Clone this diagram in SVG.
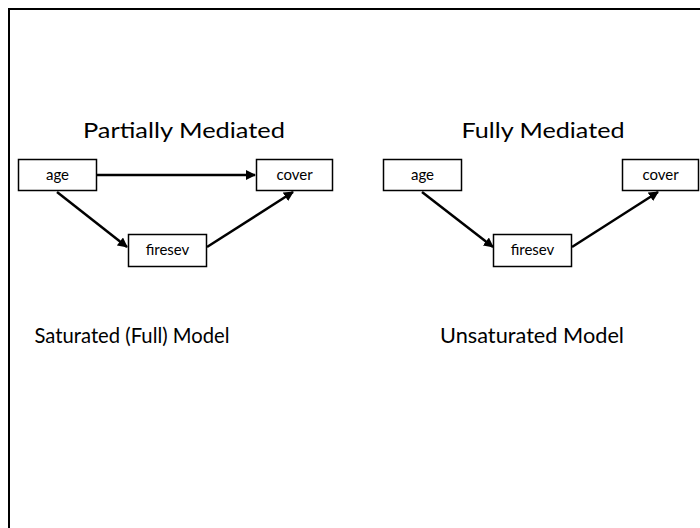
<svg xmlns="http://www.w3.org/2000/svg" width="700" height="528" viewBox="0 0 700 528">
<style>
.t{font-family:Lato,"Open Sans","Liberation Sans",sans-serif;fill:#000}
.title{font-size:22px;text-anchor:middle}
.lbl{font-size:15px;text-anchor:middle}
.box{fill:#fff;stroke:#000;stroke-width:1.5}
.edge{stroke:#000;stroke-width:2.5;fill:none;marker-end:url(#ah)}
</style>
<defs>
<marker id="ah" viewBox="0 0 10 10" refX="9" refY="5" markerWidth="4" markerHeight="4" orient="auto" markerUnits="strokeWidth">
<path d="M0,0 L10,5 L0,10 z" fill="#000"/>
</marker>
</defs>
<rect x="0" y="0" width="700" height="528" fill="#fff"/>
<rect x="9" y="9" width="720" height="560" fill="none" stroke="#000" stroke-width="2"/>
<text class="t title" x="184" y="138" textLength="202" lengthAdjust="spacingAndGlyphs">Partially Mediated</text>
<text class="t title" x="543" y="138" textLength="163" lengthAdjust="spacingAndGlyphs">Fully Mediated</text>
<text class="t title" x="132" y="343" textLength="195" lengthAdjust="spacingAndGlyphs">Saturated (Full) Model</text>
<text class="t title" x="532" y="343" textLength="184" lengthAdjust="spacingAndGlyphs">Unsaturated Model</text>
<g id="connectors">
<line class="edge" x1="96" y1="175" x2="255" y2="175"/>
<line class="edge" x1="57" y1="192" x2="127" y2="247"/>
<line class="edge" x1="207" y1="247" x2="293" y2="192"/>
<line class="edge" x1="422" y1="192" x2="493" y2="247"/>
<line class="edge" x1="572" y1="247" x2="658" y2="192"/>
</g>
<g id="age1"><rect class="box" x="18.5" y="159.5" width="78" height="31"/><text class="t lbl" x="57.5" y="180">age</text></g>
<g id="cover1"><rect class="box" x="256.5" y="159.5" width="76" height="31"/><text class="t lbl" x="294.5" y="180">cover</text></g>
<g id="firesev1"><rect class="box" x="128.5" y="234.5" width="78" height="32"/><text class="t lbl" x="167.5" y="255">firesev</text></g>
<g id="age2"><rect class="box" x="383.5" y="159.5" width="78" height="31"/><text class="t lbl" x="422.5" y="180">age</text></g>
<g id="cover2"><rect class="box" x="622.5" y="159.5" width="76" height="31"/><text class="t lbl" x="660.5" y="180">cover</text></g>
<g id="firesev2"><rect class="box" x="493.5" y="234.5" width="78" height="32"/><text class="t lbl" x="532.5" y="255">firesev</text></g>
</svg>
